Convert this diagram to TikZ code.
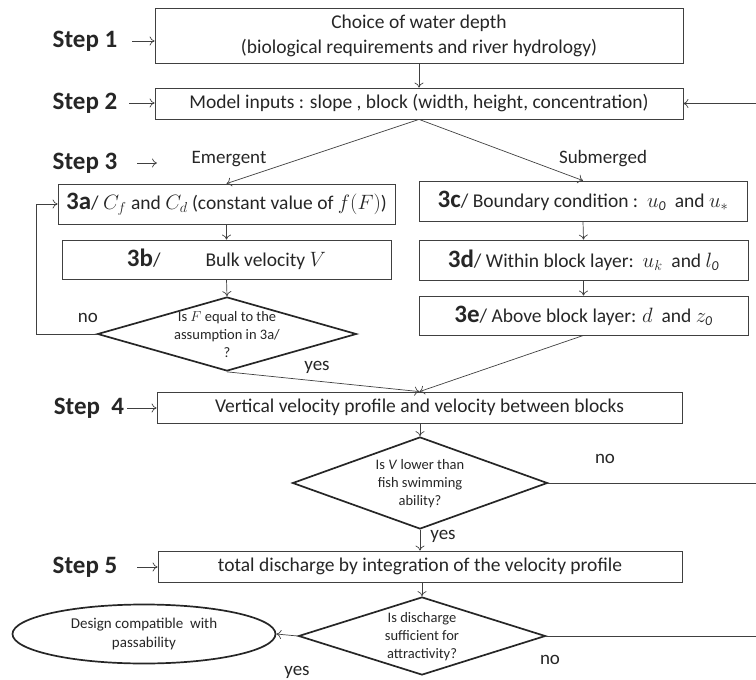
\documentclass[tikz,border=0pt]{standalone}
\usepackage{fontspec}
\setmainfont{Carlito}
\usetikzlibrary{shapes.geometric,arrows.meta}
\begin{document}
\begin{tikzpicture}[x=1pt,y=-1pt,
  line join=miter,
  every node/.style={text=black!85},
  box/.style={draw=black!75,line width=0.8pt,rectangle,inner sep=0pt,font=\fontsize{19.5}{25}\selectfont,align=center},
  dia/.style={draw=black!85,line width=1.7pt,diamond,inner sep=0pt},
  dtext/.style={font=\fontsize{14.5}{18}\selectfont,align=center,inner sep=0pt},
  steplab/.style={font=\fontsize{25}{28}\selectfont\bfseries,inner sep=0pt},
  lab/.style={font=\fontsize{19}{22}\selectfont,inner sep=0pt},
  arr/.style={draw=black!75,line width=0.7pt,-{To[length=5pt,width=9pt]}},
  ln/.style={draw=black!75,line width=0.7pt},
  nb/.style={}]
\useasboundingbox (0,0) rectangle (756,680);
\newcommand{\bignum}[1]{{\fontsize{25}{26}\selectfont\bfseries #1}}
% step labels
\node[steplab] (s1) at (85,41) {Step 1};
\node[steplab] (s2) at (85,103) {Step 2};
\node[steplab] (s3) at (85,163) {Step 3};
\node[steplab] (s4) at (89,408) {Step\ \ 4};
\node[steplab] (s5) at (85,567) {Step 5};
% boxes
\node[box,minimum width=528,minimum height=55] (b1) at (419,35.5) {Choice of water depth\\(biological requirements and river hydrology)};
\node[box,minimum width=528,minimum height=31] (b2) at (419,103.5) {Model inputs : slope , block (width, height, concentration)};
\node[box,minimum width=337,minimum height=40] (b3a) at (226.5,204) {\bignum{3a}/ $C_f$ and $C_d$ (constant value of $f(F)$)};
\node[box,minimum width=329,minimum height=39] (b3b) at (226.5,259.5) {\bignum{3b}/\hspace{45pt}Bulk velocity $V$};
\node[box,minimum width=328,minimum height=40] (b3c) at (583,201) {\bignum{3c}/ Boundary condition :\ \ $u_{\mathit{0}}$\ \ and $u_*$};
\node[box,minimum width=329,minimum height=40] (b3d) at (583.5,260) {\bignum{3d}/ Within block layer:\ \ $u_k$\ \ and $l_{\mathit{0}}$};
\node[box,minimum width=329,minimum height=39] (b3e) at (583.5,315.5) {\bignum{3e}/ Above block layer: $d$\ \ and $z_{\mathit{0}}$};
\node[box,minimum width=525,minimum height=31] (b4) at (419.5,407.5) {Vertical velocity profile and velocity between blocks};
\node[box,minimum width=524,minimum height=31] (b5) at (420,566.5) {total discharge by integration of the velocity profile};
% diamonds
\node[dia,minimum width=259,minimum height=74] (d1) at (227,334) {};
\node[dtext] (d1t) at (227,335) {Is $F$ equal to the\\assumption in 3a/\\?};
\node[dia,minimum width=255,minimum height=92] (d2) at (420,483) {};
\node[dtext] (d2t) at (420,484) {Is \textit{V} lower than\\fish swimming\\ability?};
\node[dia,minimum width=247,minimum height=78] (d3) at (422,636) {};
\node[dtext] (d3t) at (422,637) {Is discharge\\sufficient for\\attractivity?};
\node[draw=black!85,line width=1.7pt,ellipse,minimum width=263,minimum height=59,inner sep=0pt,font=\fontsize{15}{19}\selectfont,align=center] (ell) at (144,634) {Design compatible\ \ with\\passability};
% other labels
\node[lab] (em) at (229,159) {Emergent};
\node[lab] (sub) at (603,159) {Submerged};
\node[lab] (no1) at (88,318) {no};
\node[lab] (yes1) at (317,367) {yes};
\node[lab] (no2) at (605,459) {no};
\node[lab] (yes2) at (443,536) {yes};
\node[lab] (no3) at (550,660) {no};
\node[lab] (yes3) at (297,672) {yes};
% coordinates
\coordinate (s3end) at (157,163);
\coordinate (r2) at (756,103.5);
\coordinate (r4) at (756,483);
\coordinate (r5) at (756,636);
% step arrows
\draw[arr] ([xshift=15pt]s1.east) -- (s1.east -| b1.west);
\draw[arr] ([xshift=12pt]s2.east) -- (s2.east -| b2.west);
\draw[arr] ([xshift=20pt]s3.east) -- (s3end);
\draw[arr] ([xshift=3pt]s4.east) -- (s4.east -| b4.west);
\draw[arr] ([xshift=20pt]s5.east) -- (s5.east -| b5.west);
% flow
\draw[arr] (b1.south) -- (b2.north);
\draw[arr] (b2.south) -- (b3a.north);
\draw[arr] (b2.south) -- (b3c.north);
\draw[arr] (b3a.south) -- (b3b.north);
\draw[arr] (b3b.south) -- (d1.north);
\draw[arr] (d1.west) -- ++(-60,0) |- (b3a.west);
\draw[arr] (d1.south) -- (b4.north);
\draw[arr] (b3c.south) -- (b3d.north);
\draw[arr] (b3d.south) -- (b3e.north);
\draw[arr] (b3e.south) -- (b4.north);
\draw[arr] (b4.south -| d2.north) -- (d2.north);
\draw[ln] (d2.east) -- (r4);
\draw[arr] (d2.south) -- (b5.north -| d2.south);
\draw[arr] (b5.south -| d3.north) -- (d3.north);
\draw[arr] (d3.west) -- (ell.east);
\draw[ln] (d3.east) -- (r5);
\draw[arr] (r2) -- (b2.east);
\end{tikzpicture}
\end{document}
